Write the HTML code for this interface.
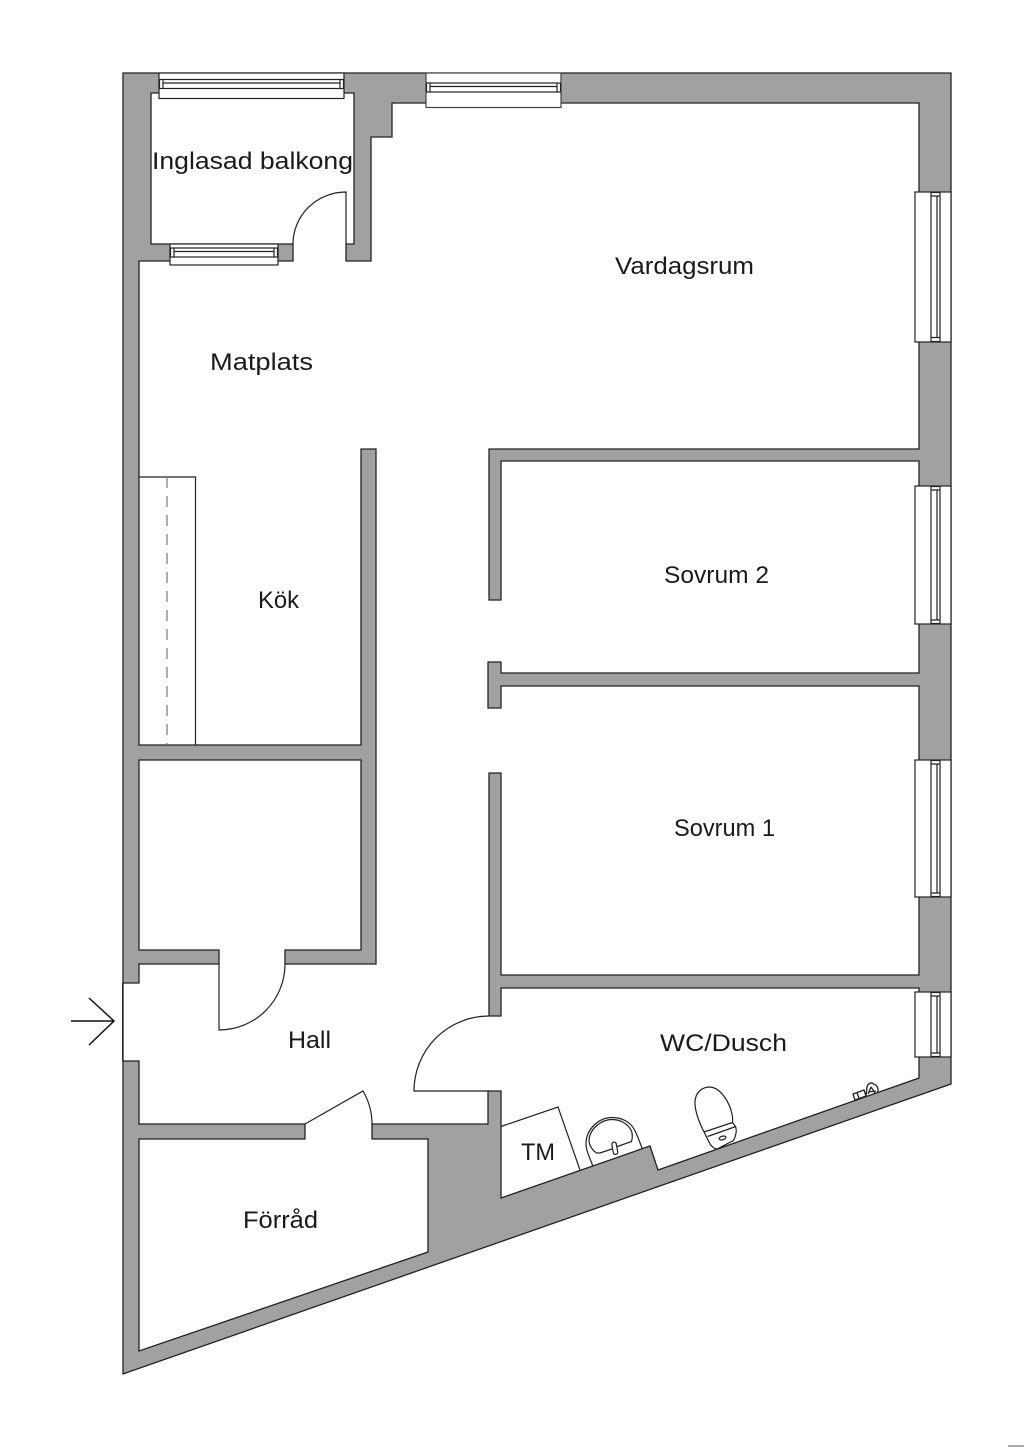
<!DOCTYPE html>
<html><head><meta charset="utf-8"><style>
html,body{margin:0;padding:0;background:#fff}
svg{display:block}
text{font-family:"Liberation Sans",sans-serif;font-size:24.5px;fill:#1a1a1a}
</style></head><body>
<svg xmlns="http://www.w3.org/2000/svg" width="1024" height="1448" viewBox="0 0 1024 1448">
<rect width="1024" height="1448" fill="#fff"/>
<g stroke="#222" stroke-width="1.3" stroke-linejoin="miter">
<polygon points="123,73 951,73 951,1084 123,1374" fill="#a1a1a1"/>
<!-- main open area -->
<path fill="#fff" d="M139,261 L293,261 L293,244 L151,244 L151,93 L354,93 L354,244 L346,244 L346,261 L371,261 L371,137 L392,137 L392,103 L919,103 L919,449 L489,449 L489,600 L501,600 L501,461 L919,461 L919,673 L501,673 L501,662 L488,662 L488,708 L501,708 L501,686 L919,686 L919,975 L501,975 L501,773 L489,773 L489,1016 L501,1016 L501,988 L919,988 L919,1078 L658,1170 L650,1146 L501,1198 L501,1091 L488,1091 L488,1124 L372,1124 L372,1139 L428,1139 L428,1252 L139,1351 L139,1139 L305,1139 L305,1124 L139,1124 L139,1061 L123,1061 L123,983 L139,983 L139,964 L219,964 L219,950 L139,950 L139,760 L361,760 L361,950 L285,950 L285,964 L376,964 L376,449 L361,449 L361,745 L139,745 Z"/>
</g>
<!-- erase strokes across door openings -->
<g fill="#fff" stroke="none">
<rect x="294" y="243" width="51" height="19"/>
<rect x="220" y="949" width="64" height="16"/>
<rect x="306" y="1123" width="65" height="17"/>
<rect x="488" y="1017" width="14" height="73"/>
</g>
<g fill="none" stroke="#222" stroke-width="1.2">
<!-- entry -->
<line x1="122.7" y1="983" x2="122.7" y2="1061"/>
<!-- doors -->
<path d="M346,244 L346,192 A53,52 0 0 0 293,244"/>
<path d="M219,964 L219,1030 A66,66 0 0 0 285,964"/>
<path d="M489,1016 A75,75 0 0 0 414,1091 L489,1091"/>
<path d="M305,1124 L363,1091 A66,66 0 0 1 372,1124"/>
<!-- counter -->
<path d="M139,477 L195.5,477 L195.5,745"/>
<line x1="167" y1="477" x2="167" y2="745" stroke="#777" stroke-dasharray="11 8"/>
<!-- TM -->
<path d="M501,1126.5 L558,1107 L580,1170"/>
<!-- sink -->
<path d="M593,1166.5 C589,1156 586,1150 586,1144 C586,1128 600,1117.5 612,1117.5 C622,1117.500 630,1122 634,1129 C637,1134 640,1143 642,1148"/>
<path d="M596.500,1153 C591,1149 589,1145 589,1140 C590,1128 602,1119.500 612,1119.500 C621,1119.500 628,1124 631.500,1131 C632.500,1134 632.500,1138 631.500,1141.500 L616,1147"/>
<path d="M596.500,1153 L600,1153 L612,1149"/>
<rect x="612.500" y="1142" width="4.500" height="12.500" rx="2.200" transform="rotate(-10 615 1148)" fill="#fff"/>
<!-- toilet -->
<path d="M704,1132 C698,1120 694.500,1110 695,1101 C696,1092 702,1087 710,1087 C719,1087.500 727,1098 731,1110 C732.500,1115 733,1119 732.500,1122.500"/>
<path d="M704,1132 L732.500,1122.500 M707.500,1136.500 L736,1126.500"/>
<path d="M704,1132 L710,1144 C712,1147 715,1149 717,1149 L733.500,1140.500 C736,1136 737,1130 735.500,1126.500 L732.500,1122.500"/>
<ellipse cx="722.500" cy="1138" rx="3.500" ry="1.800" transform="rotate(-15 722.500 1138)"/>
<!-- faucet -->
<g stroke-width="1.300">
<path d="M853,1094 L855,1100 L866,1096 L864,1090 Z"/>
<path d="M857,1093 L859,1098"/>
<path d="M866,1096 L867,1087 C868,1083 872,1082 873.500,1084 C877,1084.500 879,1089 877.500,1092.500"/>
<path d="M871,1087 L868,1094 M871,1087 L875,1093 M869,1092 L876,1091"/>
</g>
<!-- arrow -->
<g stroke="#111" stroke-width="1.500"><path d="M71,1021 L114,1021 M89,998 L114,1021 L89,1045"/></g>
</g>
<!-- windows -->
<g fill="#fff" stroke="#222" stroke-width="1.200">
<!-- top 1 -->
<rect x="159" y="73" width="185" height="25.500"/>
<rect x="159.500" y="79.500" width="184" height="9"/>
<path fill="none" d="M163,79.500 V88.500 M340,79.500 V88.500 M163,83 H340"/>
<!-- top 2 -->
<rect x="426" y="73" width="135" height="34.500" stroke="#444"/>
<rect x="426.500" y="83" width="134" height="9"/>
<path fill="none" d="M430,83 V92 M557,83 V92 M430,86.500 H557"/>
<!-- balcony bottom -->
<rect x="170" y="244" width="108" height="21"/>
<rect x="170.500" y="248" width="107" height="9"/>
<path fill="none" d="M174,248 V257 M274,248 V257 M174,251.500 H274"/>
<!-- right -->
<rect x="915" y="192" width="36" height="150"/>
<rect x="931" y="192.500" width="9" height="149"/>
<path fill="none" d="M931,196 H940 M931,337.500 H940 M937,196 V337.500"/>
<rect x="915" y="486" width="36" height="138"/>
<rect x="931" y="486.500" width="9" height="137"/>
<path fill="none" d="M931,490 H940 M931,620 H940 M937,490 V620"/>
<rect x="915" y="760" width="36" height="137"/>
<rect x="931" y="760.500" width="9" height="136"/>
<path fill="none" d="M931,764 H940 M931,893 H940 M937,764 V893"/>
<rect x="915" y="992" width="36" height="65"/>
<rect x="931" y="992.500" width="9" height="64"/>
<path fill="none" d="M931,996 H940 M931,1053 H940 M937,996 V1053"/>
</g>
<!-- labels -->
<text x="152" y="169" textLength="201" lengthAdjust="spacingAndGlyphs">Inglasad balkong</text>
<text x="615" y="274" textLength="139" lengthAdjust="spacingAndGlyphs">Vardagsrum</text>
<text x="210" y="370" textLength="103" lengthAdjust="spacingAndGlyphs">Matplats</text>
<text x="258" y="608" textLength="41" lengthAdjust="spacingAndGlyphs">Kök</text>
<text x="664" y="583" textLength="105" lengthAdjust="spacingAndGlyphs">Sovrum 2</text>
<text x="674" y="836" textLength="101" lengthAdjust="spacingAndGlyphs">Sovrum 1</text>
<text x="660" y="1051" textLength="127" lengthAdjust="spacingAndGlyphs">WC/Dusch</text>
<text x="288" y="1048" textLength="43" lengthAdjust="spacingAndGlyphs">Hall</text>
<text x="521" y="1160" textLength="34" lengthAdjust="spacingAndGlyphs">TM</text>
<text x="243" y="1228" textLength="75" lengthAdjust="spacingAndGlyphs">Förråd</text>
<!-- page edge mark -->
<rect x="1008" y="1445" width="16" height="2" fill="#aaa"/>
</svg>
</body></html>
